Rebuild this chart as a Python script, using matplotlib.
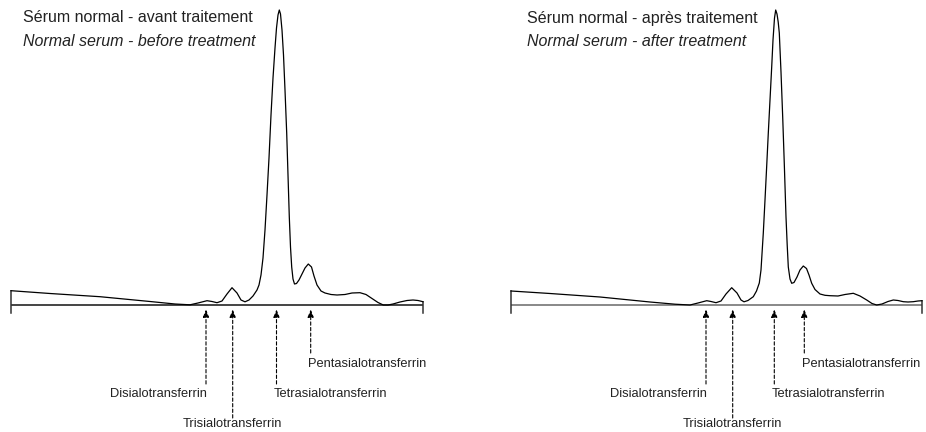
import matplotlib
matplotlib.use("Agg")
import matplotlib.pyplot as plt

plt.rcParams['font.family'] = ['Liberation Sans', 'DejaVu Sans']

# retention (arbitrary units from start of run) and detector signal (arbitrary units)
before_x = [0, 39, 89, 139, 164, 179, 187, 196, 201, 206, 211, 216, 221, 226, 230, 234, 238, 242, 246,
            248, 250, 252, 254, 256, 258, 260, 262, 264, 265.5, 267, 268.3, 269.5, 271, 272.5, 274,
            275.7, 277, 278.3, 279.5, 280.7, 282, 283.5, 285.5, 288, 290.5, 294, 297.3, 300.5, 303,
            306, 310, 314, 320, 326, 334, 341, 349, 355, 361, 367, 372.3, 377, 382, 389, 396, 402,
            407, 412]
before_y = [14.3, 11.5, 8.3, 3.5, 1, 0.2, 2, 4.3, 3.5, 2.3, 4, 11, 17.3, 12, 5, 3.2, 5, 9, 15,
            20, 30, 47, 75, 110, 147, 190, 227, 257, 277, 290, 295, 291, 275, 250, 215,
            172, 130, 88, 58, 38, 26, 21, 21.5, 25, 30, 37, 41, 38, 29,
            20, 14, 12, 10.5, 10, 10.5, 12, 12.3, 10.5, 6.5, 2.5, 0, 0, 1, 3, 4.5, 5,
            4.5, 3.3]

after_x = [0, 39, 89, 139, 164, 179, 187, 195.7, 200, 205, 210, 215, 220.7, 226, 230, 233, 237,
           242.3, 245.5, 248.3, 250, 252.3, 254, 255.7, 257.3, 259, 260.7, 262, 263.5, 264.7, 266,
           267.2, 268.3, 270, 271.7, 273.4, 275, 276.2, 277.3, 279, 280.7, 283, 286, 289, 292.3,
           295.5, 298, 300.7, 304, 309, 314, 319, 327, 334, 342.3, 349, 355.7, 361, 365.7, 371,
           377, 382.3, 387, 392.3, 397, 402.3, 407, 411]
after_y = [14, 11.5, 8, 3, 0.8, 0, 2, 4.3, 3.5, 2.3, 4, 11, 17.3, 12, 5, 3.2, 4.5,
           8.3, 14, 22, 35, 72, 105, 139, 172, 205, 238, 265, 287, 295, 291,
           283, 272, 233, 188, 138, 88, 60, 38, 26, 21.7, 22.5, 28, 35, 39,
           36.5, 30, 21.7, 15.5, 11, 9.7, 9.3, 9, 10.5, 11.7, 9, 5, 1.5, 0, 1,
           3.5, 5, 4.5, 3.3, 3, 3.3, 4, 4.3]

titles_fr = ["Sérum normal - avant traitement", "Sérum normal - après traitement"]
titles_en = ["Normal serum - before treatment", "Normal serum - after treatment"]

peak_names = ["Disialotransferrin", "Trisialotransferrin", "Tetrasialotransferrin", "Pentasialotransferrin"]
peaks_before = [195, 221.7, 265.5, 299.7]
peaks_after = [195, 221.7, 263.3, 293.3]
# lower end of each dashed pointer line
pointer_end = [-79, -113, -79, -48]


def draw_panel(ax, xs, ys, peaks, title_fr, title_en, base_color, title_x):
    # baseline and end ticks
    ax.plot([xs[0], xs[-1]], [0, 0], color=base_color, lw=1.4, solid_capstyle='butt')
    ax.plot([xs[0], xs[0]], [ys[0], -8], color='#333333', lw=1.1)
    ax.plot([xs[-1], xs[-1]], [ys[-1], -8], color='#333333', lw=1.1)
    # the trace
    ax.plot(xs, ys, color='black', lw=0.9, solid_joinstyle='round')

    # pointers
    for name, px, yend in zip(peak_names, peaks, pointer_end):
        ax.annotate('', xy=(px, -4.5), xytext=(px, yend),
                    arrowprops=dict(arrowstyle='-|>,head_length=0.45,head_width=0.18',
                                    ls=(0, (3, 2)), lw=0.8, color='black',
                                    shrinkA=0, shrinkB=0, mutation_scale=10))
    ax.text(peaks[0] + 1.3, -89, peak_names[0], ha='right', va='center', fontsize=9.3, color='#222222')
    ax.text(peaks[1], -119, peak_names[1], ha='center', va='center', fontsize=9.3, color='#222222')
    ax.text(peaks[2] - 3, -89, peak_names[2], ha='left', va='center', fontsize=9.3, color='#222222')
    ax.text(peaks[3] - 2.5, -59, peak_names[3], ha='left', va='center', fontsize=9.3, color='#222222')

    ax.text(title_x, 287, title_fr, ha='left', va='center', fontsize=11.5, color='#222222')
    ax.text(title_x, 264, title_en, ha='left', va='center', fontsize=11.5, color='#222222',
            style='italic')

    ax.set_ylim(-127, 305)
    ax.axis('off')


fig = plt.figure(figsize=(9.26, 4.32), dpi=100)
ax1 = fig.add_axes([0, 0, 0.5, 1])
ax2 = fig.add_axes([0.5, 0, 0.5, 1])
ax1.set_xlim(-11, 452)
ax2.set_xlim(-48, 415)

draw_panel(ax1, before_x, before_y, peaks_before, titles_fr[0], titles_en[0], '#444444', 11.7)
draw_panel(ax2, after_x, after_y, peaks_after, titles_fr[1], titles_en[1], '#888888', 16.3)

fig.savefig("out.png", dpi=100)
